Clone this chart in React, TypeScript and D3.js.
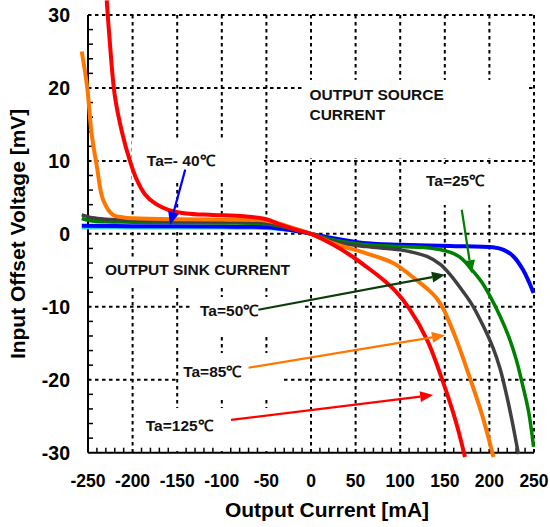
import { curveCatmullRom, line, range, scaleLinear } from "d3";
import React from "react";

// axis ticks
const xTicks = [-250, -200, -150, -100, -50, 0, 50, 100, 150, 200, 250];
const yTicks = [30, 20, 10, 0, -10, -20, -30];

// Ta = 125C
const ta125Current = [-229, -226, -220, -212, -203, -196, -186, -174, -160, -140, -110, -75, -50, -35, -18, 0, 25, 45, 62, 80, 95, 110, 130, 148, 163, 172.6];
const ta125Voltage = [32, 27, 19, 14, 10, 7.6, 5.4, 4.1, 3.3, 2.8, 2.6, 2.4, 2.0, 1.3, 0.6, 0, -1.5, -3.0, -4.5, -6.2, -7.9, -10.2, -14.5, -20.3, -26, -30.6];
// Ta = 85C
const ta85Current = [-257, -251, -246, -240, -233, -222, -210, -199, -150, -100, -50, -25, 0, 25, 62, 92, 118, 130, 140, 148, 155, 163, 178, 192, 204.5];
const ta85Voltage = [25, 20.2, 13.8, 9.2, 4.65, 2.6, 2.25, 2.14, 2.0, 1.95, 1.8, 1.0, 0, -1.3, -2.67, -4.0, -6.3, -7.5, -8.7, -10.2, -12.1, -14.5, -19.7, -24.9, -30.6];
// Ta = 50C
const ta50Current = [-257, -245, -230, -200, -150, -100, -50, -25, 0, 25, 62, 100, 130, 145, 156, 168, 180, 193, 204, 212, 220, 226, 232.5];
const ta50Voltage = [2.6, 2.2, 2.0, 1.85, 1.75, 1.7, 1.5, 0.9, 0, -1.07, -1.75, -2.2, -3.1, -4.2, -5.6, -7.5, -9.6, -12.6, -15.6, -18.5, -22.5, -26, -30.2];
// Ta = 25C
const ta25Current = [-257, -245, -230, -200, -100, -50, -25, 0, 25, 62, 100, 137, 160, 170, 178, 185, 193, 201, 212, 222, 230, 237, 244, 249.5];
const ta25Voltage = [2.1, 1.75, 1.65, 1.6, 1.5, 1.35, 0.8, 0, -0.85, -1.5, -1.75, -2.0, -2.7, -3.5, -4.6, -5.6, -6.9, -8.6, -11.3, -14.2, -17.2, -20.6, -24.4, -29.2];
// Ta = -40C
const taM40Current = [-257, -200, -100, -50, -25, 0, 25, 62, 100, 156, 204, 216, 227, 238, 249.5];
const taM40Voltage = [1.1, 1.05, 1.0, 0.9, 0.55, 0, -0.6, -1.3, -1.5, -1.66, -1.85, -2.2, -3.1, -5.0, -8.1];
// faint cyan trace under the -40C curve
const cyanCurrent = [-257, -200, -100, -50, -25, 0, 25, 62, 100];
const cyanVoltage = [0.75, 0.75, 0.72, 0.65, 0.4, 0, -0.7, -1.4, -1.6];

const series = [
  { current: cyanCurrent, voltage: cyanVoltage, color: "#33ccff", w: 2 },
  { current: taM40Current, voltage: taM40Voltage, color: "#0000ff", w: 4 },
  { current: ta25Current, voltage: ta25Voltage, color: "#008000", w: 3.5 },
  { current: ta50Current, voltage: ta50Voltage, color: "#404040", w: 3.5 },
  { current: ta85Current, voltage: ta85Voltage, color: "#ff7700", w: 4 },
  { current: ta125Current, voltage: ta125Voltage, color: "#ff0000", w: 4 },
];

// label text, anchor (mA, mV), white box behind it [x0, x1, y0, y1]
const labels = [
  { lines: ["Ta=- 40℃"], x: -184, y: 9.25, box: [-200.7, -52.7, 12.74, 7.26] },
  { lines: ["OUTPUT SOURCE", "CURRENT"], x: -1.7, y: 18.37, box: [-6.7, 243.3, 21.1, 10.4] },
  { lines: ["Ta=25℃"], x: 128.9, y: 6.5, box: [111, 211.9, 9.59, 3.96] },
  { lines: ["OUTPUT SINK CURRENT"], x: -231, y: -5.64, box: [-242, 5.6, -3.3, -7.0] },
  { lines: ["Ta=50℃"], x: -124.4, y: -11.26, box: [-135.7, -10.1, -8.66, -14.14] },
  { lines: ["Ta=85℃"], x: -143.3, y: -19.56, box: [-148, -31.4, -16.34, -22.37] },
  { lines: ["Ta=125℃"], x: -185.2, y: -26.97, box: [-191.7, -17.9, -23.88, -29.78] },
];

// arrows: from -> tip (mA, mV)
const arrows = [
  { from: [-141, 8.8], to: [-158, 1.2], color: "#0000ff" },
  { from: [169, 3.3], to: [180, -5.4], color: "#008000" },
  { from: [-59, -10.4], to: [150.2, -5.6], color: "#0b3d0b" },
  { from: [-70, -18.35], to: [150.2, -13.9], color: "#ff7700" },
  { from: [-89.7, -25.5], to: [137, -22.1], color: "#ff0000" },
];

const width = 550;
const height = 527;
const margin = { top: 15, right: 16, bottom: 74.3, left: 88 };
const innerWidth = width - margin.left - margin.right;
const innerHeight = height - margin.top - margin.bottom;

const xScale = scaleLinear().domain([-250, 250]).range([0, innerWidth]);
const yScale = scaleLinear().domain([-30, 30]).range([innerHeight, 0]);

const font = "'Liberation Sans', Arial, sans-serif";
const dash = "3.5 3.5";

function Arrow({ from, to, color }: { from: number[]; to: number[]; color: string }) {
  const x1 = xScale(from[0]);
  const y1 = yScale(from[1]);
  const x2 = xScale(to[0]);
  const y2 = yScale(to[1]);
  const a = Math.atan2(y2 - y1, x2 - x1);
  const len = 13;
  const half = 5.5;
  const bx = x2 - len * Math.cos(a);
  const by = y2 - len * Math.sin(a);
  const px = -Math.sin(a) * half;
  const py = Math.cos(a) * half;
  return (
    <g>
      <line x1={x1} y1={y1} x2={bx} y2={by} stroke={color} strokeWidth={2.2} />
      <path d={`M${x2},${y2}L${bx + px},${by + py}L${bx - px},${by - py}Z`} fill={color} />
    </g>
  );
}

export default function App() {
  const path = line<[number, number]>()
    .x((d) => xScale(d[0]))
    .y((d) => yScale(d[1]))
    .curve(curveCatmullRom.alpha(0.5));

  const minorX = range(-240, 250, 10).filter((v) => v % 50 !== 0);
  const minorY = range(-28, 30, 2).filter((v) => v % 10 !== 0);

  return (
    <svg
      width={width}
      height={height}
      viewBox={`0 0 ${width} ${height}`}
      style={{ position: "absolute", left: 0, top: 0, background: "white" }}
    >
      <g transform={`translate(${margin.left}, ${margin.top})`}>
        {/* dotted grid */}
        {xTicks.slice(1).map((v) => (
          <line key={`gx${v}`} x1={xScale(v)} x2={xScale(v)} y1={0} y2={innerHeight}
            stroke="black" strokeWidth={2} strokeDasharray={dash} />
        ))}
        {yTicks.slice(0, -1).map((v) => (
          <line key={`gy${v}`} x1={0} x2={innerWidth} y1={yScale(v)} y2={yScale(v)}
            stroke="black" strokeWidth={2} strokeDasharray={dash} />
        ))}

        {/* white boxes behind labels */}
        {labels.map((l, i) => (
          <rect key={`b${i}`} x={xScale(l.box[0])} y={yScale(l.box[2])}
            width={xScale(l.box[1]) - xScale(l.box[0])}
            height={yScale(l.box[3]) - yScale(l.box[2])} fill="white" />
        ))}

        {/* axes */}
        <line x1={0} x2={0} y1={0} y2={innerHeight} stroke="black" strokeWidth={2} />
        <line x1={0} x2={innerWidth} y1={innerHeight} y2={innerHeight} stroke="black" strokeWidth={2} />
        {minorY.map((v) => (
          <line key={`ty${v}`} x1={0} x2={5} y1={yScale(v)} y2={yScale(v)} stroke="black" strokeWidth={1.5} />
        ))}
        {minorX.map((v) => (
          <line key={`tx${v}`} x1={xScale(v)} x2={xScale(v)} y1={innerHeight} y2={innerHeight - 5}
            stroke="black" strokeWidth={1.5} />
        ))}

        {/* curves */}
        {series.map((s, i) => (
          <path key={`s${i}`}
            d={path(s.current.map((c, j) => [c, s.voltage[j]] as [number, number])) || ""}
            fill="none" stroke={s.color} strokeWidth={s.w} strokeLinejoin="round" />
        ))}

        {/* arrows */}
        {arrows.map((a, i) => (
          <Arrow key={`a${i}`} from={a.from} to={a.to} color={a.color} />
        ))}

        {/* labels */}
        {labels.map((l, i) => (
          <text key={`l${i}`} x={xScale(l.x)} y={yScale(l.y)} fontFamily={font}
            fontWeight="bold" fontSize={15.5} fill="#111">
            {l.lines.map((t, j) => (
              <tspan key={j} x={xScale(l.x)} dy={j === 0 ? 0 : 20}>{t}</tspan>
            ))}
          </text>
        ))}

        {/* tick labels */}
        {yTicks.map((v) => (
          <text key={`yl${v}`} x={-18} y={yScale(v)} dy="0.36em" textAnchor="end"
            fontFamily={font} fontWeight="bold" fontSize={19.5}>{v}</text>
        ))}
        {xTicks.map((v) => (
          <text key={`xl${v}`} x={xScale(v)} y={innerHeight + 34.5} textAnchor="middle"
            fontFamily={font} fontWeight="bold" fontSize={17.5}>{v}</text>
        ))}

        {/* axis titles */}
        <text x={239} y={innerHeight + 64.5} textAnchor="middle" fontFamily={font}
          fontWeight="bold" fontSize={21}>Output Current [mA]</text>
        <text transform={`translate(${-63}, ${218.9}) rotate(-90)`} textAnchor="middle"
          fontFamily={font} fontWeight="bold" fontSize={21}>Input Offset Voltage [mV]</text>
      </g>
    </svg>
  );
}
